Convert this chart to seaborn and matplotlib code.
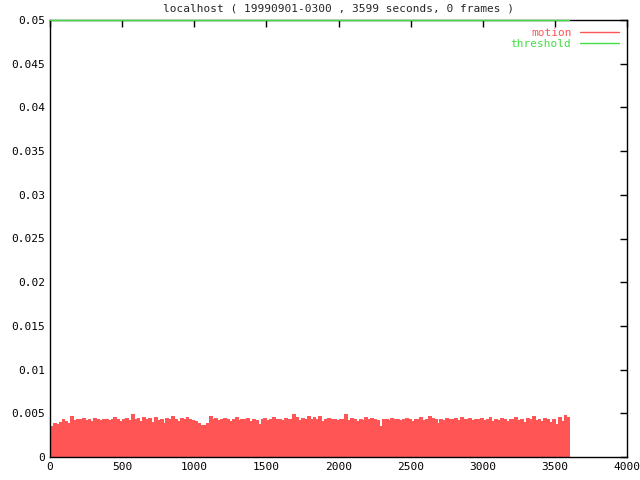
import numpy as np
import matplotlib
matplotlib.use("Agg")
import matplotlib.pyplot as plt
from matplotlib.lines import Line2D
import seaborn as sns

# motion level in 20 s steps (0 .. 3600 s)
bin_width = 20
motion = [
    0.0036, 0.0039, 0.0038, 0.0040, 0.0043, 0.0041, 0.0039, 0.0047, 0.0042, 0.0044,
    0.0043, 0.0045, 0.0042, 0.0044, 0.0041, 0.0045, 0.0043, 0.0042, 0.0044, 0.0043,
    0.0042, 0.0044, 0.0046, 0.0043, 0.0041, 0.0044, 0.0045, 0.0042, 0.0049, 0.0043,
    0.0045, 0.0041, 0.0046, 0.0044, 0.0045, 0.0040, 0.0046, 0.0042, 0.0044, 0.0039,
    0.0045, 0.0043, 0.0047, 0.0044, 0.0041, 0.0045, 0.0043, 0.0046, 0.0044, 0.0042,
    0.0041, 0.0039, 0.0037, 0.0037, 0.0039, 0.0047, 0.0043, 0.0045, 0.0042, 0.0044,
    0.0045, 0.0043, 0.0041, 0.0044, 0.0046, 0.0042, 0.0044, 0.0043, 0.0045, 0.0041,
    0.0044, 0.0042, 0.0038, 0.0043, 0.0045, 0.0042, 0.0044, 0.0046, 0.0043, 0.0044,
    0.0042, 0.0045, 0.0043, 0.0044, 0.0049, 0.0046, 0.0042, 0.0045, 0.0044, 0.0047,
    0.0044, 0.0046, 0.0043, 0.0047, 0.0041, 0.0044, 0.0045, 0.0043, 0.0044, 0.0042,
    0.0043, 0.0044, 0.0049, 0.0042, 0.0045, 0.0043, 0.0041, 0.0044, 0.0042, 0.0046,
    0.0043, 0.0045, 0.0044, 0.0042, 0.0035, 0.0043, 0.0044, 0.0042, 0.0045, 0.0043,
    0.0044, 0.0042, 0.0043, 0.0045, 0.0044, 0.0041, 0.0044, 0.0043, 0.0046, 0.0042,
    0.0044, 0.0047, 0.0045, 0.0043, 0.0039, 0.0044, 0.0042, 0.0045, 0.0044, 0.0043,
    0.0045, 0.0042, 0.0046, 0.0043, 0.0044, 0.0045, 0.0042, 0.0044, 0.0043, 0.0045,
    0.0042, 0.0044, 0.0046, 0.0041, 0.0044, 0.0042, 0.0045, 0.0043, 0.0041, 0.0044,
    0.0043, 0.0046, 0.0042, 0.0044, 0.0040, 0.0045, 0.0043, 0.0047, 0.0042, 0.0044,
    0.0041, 0.0045, 0.0043, 0.0040, 0.0044, 0.0038, 0.0046, 0.0041, 0.0048, 0.0046,
]
seconds = np.arange(len(motion)) * bin_width

threshold_x = [0, 3599]
threshold_y = [0.05, 0.05]

x_ticks = [0, 500, 1000, 1500, 2000, 2500, 3000, 3500, 4000]
y_ticks = [0, 0.005, 0.01, 0.015, 0.02, 0.025, 0.03, 0.035, 0.04, 0.045, 0.05]
y_labels = ["0", "0.005", "0.01", "0.015", "0.02", "0.025", "0.03",
            "0.035", "0.04", "0.045", "0.05"]

title = "localhost ( 19990901-0300 , 3599 seconds, 0 frames )"

red = "#ff5555"
green = "#44dd44"

sns.set_style("white")
plt.rcParams["font.family"] = ["DejaVu Sans Mono"]

fig = plt.figure(figsize=(6.4, 4.8), dpi=100)
ax = fig.add_axes([50 / 640, 23 / 480, 577 / 640, 437 / 480])

# bars drawn edge to edge, no antialias seams
ax.bar(seconds, motion, width=bin_width, align="edge", color=red,
       edgecolor=red, linewidth=0.6, antialiased=False)
sns.lineplot(x=threshold_x, y=threshold_y, color=green, linewidth=1.0,
             ax=ax, clip_on=False, zorder=5, legend=False)

ax.set_xlim(0, 4000)
ax.set_ylim(0, 0.05)
ax.set_xticks(x_ticks)
ax.set_xticklabels([str(t) for t in x_ticks])
ax.set_yticks(y_ticks)
ax.set_yticklabels(y_labels)
ax.tick_params(direction="in", length=5, width=1, top=True, right=True,
               labelsize=8, colors="black")
for s in ax.spines.values():
    s.set_color("black")
    s.set_linewidth(1)
ax.set_title(title, fontsize=8, pad=6)

handles = [Line2D([], [], color=red, lw=1), Line2D([], [], color=green, lw=1)]
leg = ax.legend(handles, ["motion", "threshold"], loc="upper right",
                frameon=False, markerfirst=False, fontsize=8,
                handlelength=3.5, handletextpad=0.8, borderaxespad=0.3,
                labelspacing=0.1)
for txt, col in zip(leg.get_texts(), [red, green]):
    txt.set_color(col)

fig.savefig("out.png", dpi=100)
